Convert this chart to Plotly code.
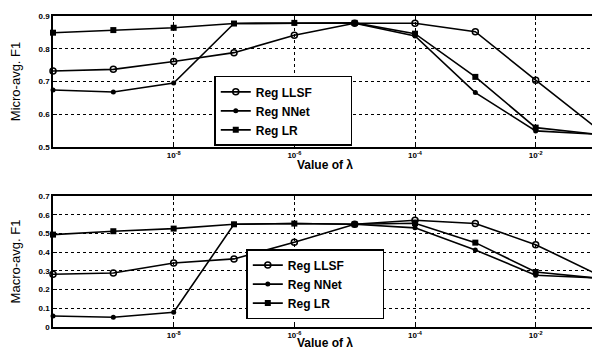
import plotly.graph_objects as go
from plotly.subplots import make_subplots

lambdas = [1e-10, 1e-9, 1e-8, 1e-7, 1e-6, 1e-5, 1e-4, 1e-3, 1e-2, 1e-1]

micro_llsf = [0.732, 0.737, 0.761, 0.788, 0.841, 0.878, 0.878, 0.852, 0.704, 0.559]
micro_nnet = [0.674, 0.668, 0.695, 0.877, 0.878, 0.878, 0.839, 0.666, 0.549, 0.539]
micro_lr = [0.849, 0.857, 0.864, 0.877, 0.879, 0.879, 0.846, 0.714, 0.559, 0.539]

macro_llsf = [0.282, 0.289, 0.342, 0.364, 0.453, 0.549, 0.571, 0.553, 0.440, 0.285]
macro_nnet = [0.059, 0.052, 0.079, 0.549, 0.553, 0.549, 0.530, 0.412, 0.277, 0.262]
macro_lr = [0.494, 0.512, 0.526, 0.549, 0.553, 0.549, 0.555, 0.451, 0.294, 0.262]

series_names = ["Reg LLSF", "Reg NNet", "Reg LR"]
x_tickvals = [1e-8, 1e-6, 1e-4, 1e-2]
x_ticktext = ["<b>10<sup>-8</sup></b>", "<b>10<sup>-6</sup></b>",
              "<b>10<sup>-4</sup></b>", "<b>10<sup>-2</sup></b>"]
micro_ticks = [0.5, 0.6, 0.7, 0.8, 0.9]
macro_ticks = [0, 0.1, 0.2, 0.3, 0.4, 0.5, 0.6, 0.7]

markers = [
    dict(symbol="circle-open", size=6, color="black", line=dict(width=1.5, color="black")),
    dict(symbol="circle", size=5, color="black"),
    dict(symbol="square", size=6, color="black"),
]

fig = make_subplots(rows=2, cols=1, vertical_spacing=0.158)

pad = "\u00a0" * 10 + "\u200b"
top = [micro_llsf, micro_nnet, micro_lr]
bot = [macro_llsf, macro_nnet, macro_lr]
for name, ys, mk in zip(series_names, top, markers):
    fig.add_trace(go.Scatter(x=lambdas, y=ys, mode="lines+markers",
                             name="<b>" + name + pad + "</b>",
                             line=dict(color="black", width=1.6), marker=mk,
                             legend="legend", cliponaxis=False), row=1, col=1)
for name, ys, mk in zip(series_names, bot, markers):
    fig.add_trace(go.Scatter(x=lambdas, y=ys, mode="lines+markers",
                             name="<b>" + name + pad + "</b>",
                             line=dict(color="black", width=1.6), marker=mk,
                             legend="legend2", cliponaxis=False), row=2, col=1)

tickfont = dict(family="Liberation Sans", size=8, color="black")
titlefont = dict(family="Liberation Sans", size=13, color="black")

xcommon = dict(type="log", range=[-10, -1], tickvals=x_tickvals, ticktext=x_ticktext,
               showgrid=True, gridcolor="black", griddash="dot", gridwidth=1,
               showline=True, linecolor="black", linewidth=1.5, mirror="ticks",
               ticks="inside", ticklen=4, tickcolor="black", tickfont=tickfont,
               zeroline=False)
fig.update_xaxes(**xcommon, row=1, col=1)
fig.update_xaxes(**xcommon, row=2, col=1)

ycommon = dict(showgrid=True, gridcolor="black", griddash="dot", gridwidth=1,
               showline=True, linecolor="black", linewidth=1.5, mirror="ticks",
               ticks="inside", ticklen=4, tickcolor="black", tickfont=tickfont,
               zeroline=False)
fig.update_yaxes(**ycommon, range=[0.5, 0.9], tickvals=micro_ticks,
                 ticktext=["<b>%g</b>" % v for v in micro_ticks],
                 title=dict(text="Micro-avg. F1", font=titlefont, standoff=17), row=1, col=1)
fig.update_yaxes(**ycommon, range=[0, 0.7], tickvals=macro_ticks,
                 ticktext=["<b>%g</b>" % v for v in macro_ticks],
                 title=dict(text="Macro-avg. F1", font=titlefont, standoff=17), row=2, col=1)

for yp in [0.521, -0.052]:
    fig.add_annotation(text="<b>Value of λ</b>", xref="paper", yref="paper",
                       x=0.50, y=yp, xanchor="center", yanchor="middle",
                       showarrow=False, font=dict(family="Liberation Sans", size=12, color="black"))

legfont = dict(family="Liberation Sans", size=12, color="black")
fig.update_layout(
    width=592, height=343,
    margin=dict(l=45, r=2, t=8, b=24),
    paper_bgcolor="white", plot_bgcolor="white",
    legend=dict(x=0.297, y=0.695, xanchor="left", yanchor="middle", bordercolor="black",
                borderwidth=1.5, bgcolor="white", font=legfont, tracegroupgap=0,
                itemwidth=30),
    legend2=dict(x=0.356, y=0.138, xanchor="left", yanchor="middle", bordercolor="black",
                 borderwidth=1.5, bgcolor="white", font=legfont, tracegroupgap=0,
                 itemwidth=30),
)
fig.write_html("out.html")
